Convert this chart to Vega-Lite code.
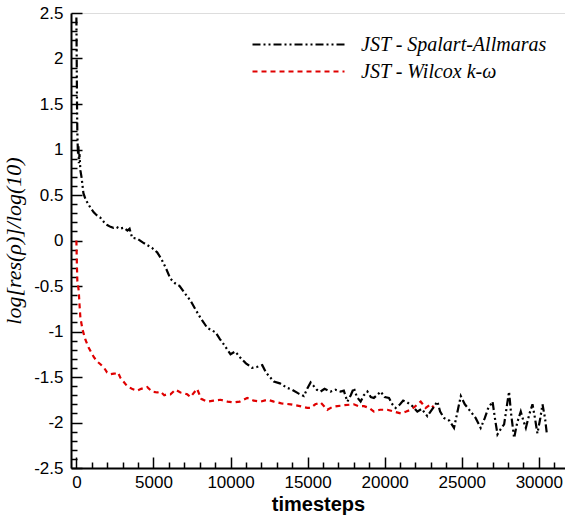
{
  "$schema": "https://vega.github.io/schema/vega-lite/v6.json",
  "width": 494,
  "height": 455,
  "autosize": {"type": "none"},
  "padding": {"left": 71, "top": 13, "right": 0, "bottom": 49},
  "datasets": {
    "sa": [
      {"t":0,"r":2.45},{"t":20,"r":2.0},{"t":40,"r":1.5},{"t":60,"r":1.2},{"t":100,"r":0.95},{"t":130,"r":1.05},{"t":160,"r":0.85},{"t":200,"r":0.95},{"t":260,"r":0.77},{"t":330,"r":0.7},{"t":455,"r":0.52},{"t":600,"r":0.45},{"t":700,"r":0.42},{"t":910,"r":0.36},{"t":1125,"r":0.31},{"t":1300,"r":0.28},{"t":1560,"r":0.25},{"t":1800,"r":0.2},{"t":2000,"r":0.17},{"t":2210,"r":0.15},{"t":2400,"r":0.14},{"t":2600,"r":0.15},{"t":2800,"r":0.13},{"t":3070,"r":0.14},{"t":3310,"r":0.11},{"t":3450,"r":0.13},{"t":3615,"r":0.03},{"t":3960,"r":0.02},{"t":4300,"r":-0.02},{"t":4590,"r":-0.05},{"t":4900,"r":-0.08},{"t":5240,"r":-0.13},{"t":5500,"r":-0.2},{"t":5800,"r":-0.3},{"t":6100,"r":-0.42},{"t":6400,"r":-0.47},{"t":6700,"r":-0.5},{"t":7080,"r":-0.59},{"t":7400,"r":-0.66},{"t":7700,"r":-0.75},{"t":8050,"r":-0.85},{"t":8490,"r":-0.96},{"t":9030,"r":-1.01},{"t":9300,"r":-1.08},{"t":9600,"r":-1.15},{"t":10000,"r":-1.25},{"t":10300,"r":-1.22},{"t":10650,"r":-1.29},{"t":11000,"r":-1.35},{"t":11400,"r":-1.4},{"t":11700,"r":-1.39},{"t":12060,"r":-1.37},{"t":12300,"r":-1.45},{"t":12810,"r":-1.55},{"t":13200,"r":-1.57},{"t":13680,"r":-1.62},{"t":14000,"r":-1.64},{"t":14400,"r":-1.68},{"t":14760,"r":-1.71},{"t":15000,"r":-1.62},{"t":15195,"r":-1.56},{"t":15400,"r":-1.6},{"t":15600,"r":-1.64},{"t":15840,"r":-1.66},{"t":16100,"r":-1.63},{"t":16490,"r":-1.66},{"t":16800,"r":-1.64},{"t":17140,"r":-1.66},{"t":17350,"r":-1.65},{"t":17580,"r":-1.77},{"t":17800,"r":-1.7},{"t":18000,"r":-1.62},{"t":18200,"r":-1.72},{"t":18440,"r":-1.77},{"t":18650,"r":-1.7},{"t":18880,"r":-1.66},{"t":19100,"r":-1.72},{"t":19300,"r":-1.73},{"t":19500,"r":-1.7},{"t":19740,"r":-1.66},{"t":20000,"r":-1.72},{"t":20280,"r":-1.73},{"t":20500,"r":-1.8},{"t":20710,"r":-1.84},{"t":21000,"r":-1.8},{"t":21200,"r":-1.76},{"t":21470,"r":-1.78},{"t":21800,"r":-1.82},{"t":22120,"r":-1.88},{"t":22400,"r":-1.85},{"t":22770,"r":-1.93},{"t":23100,"r":-1.85},{"t":23420,"r":-1.77},{"t":23600,"r":-1.88},{"t":23850,"r":-1.95},{"t":24200,"r":-1.98},{"t":24500,"r":-2.06},{"t":24700,"r":-1.9},{"t":24940,"r":-1.71},{"t":25200,"r":-1.8},{"t":25580,"r":-1.88},{"t":25900,"r":-1.95},{"t":26230,"r":-2.06},{"t":26500,"r":-1.95},{"t":26700,"r":-1.85},{"t":27000,"r":-1.77},{"t":27150,"r":-1.95},{"t":27320,"r":-2.13},{"t":27500,"r":-2.08},{"t":27750,"r":-2.02},{"t":27900,"r":-1.85},{"t":28070,"r":-1.66},{"t":28200,"r":-1.9},{"t":28400,"r":-2.17},{"t":28600,"r":-2.0},{"t":28830,"r":-1.88},{"t":29000,"r":-1.98},{"t":29160,"r":-2.06},{"t":29400,"r":-1.9},{"t":29590,"r":-1.8},{"t":29750,"r":-1.95},{"t":29910,"r":-2.12},{"t":30100,"r":-1.95},{"t":30240,"r":-1.8},{"t":30400,"r":-1.95},{"t":30520,"r":-2.12}
    ],
    "wk": [
      {"t":0,"r":0.0},{"t":30,"r":-0.25},{"t":60,"r":-0.44},{"t":150,"r":-0.55},{"t":200,"r":-0.7},{"t":260,"r":-0.85},{"t":400,"r":-0.98},{"t":585,"r":-1.09},{"t":800,"r":-1.18},{"t":1125,"r":-1.28},{"t":1350,"r":-1.33},{"t":1560,"r":-1.36},{"t":1800,"r":-1.4},{"t":1990,"r":-1.45},{"t":2210,"r":-1.47},{"t":2530,"r":-1.46},{"t":2700,"r":-1.45},{"t":2860,"r":-1.51},{"t":3050,"r":-1.55},{"t":3290,"r":-1.6},{"t":3600,"r":-1.63},{"t":3940,"r":-1.65},{"t":4200,"r":-1.63},{"t":4590,"r":-1.61},{"t":4900,"r":-1.66},{"t":5240,"r":-1.67},{"t":5450,"r":-1.66},{"t":5700,"r":-1.7},{"t":5890,"r":-1.69},{"t":6100,"r":-1.69},{"t":6430,"r":-1.64},{"t":6750,"r":-1.67},{"t":7000,"r":-1.68},{"t":7190,"r":-1.69},{"t":7400,"r":-1.72},{"t":7830,"r":-1.63},{"t":8100,"r":-1.74},{"t":8490,"r":-1.77},{"t":8900,"r":-1.76},{"t":9350,"r":-1.75},{"t":9800,"r":-1.77},{"t":10210,"r":-1.78},{"t":10600,"r":-1.77},{"t":11080,"r":-1.73},{"t":11500,"r":-1.76},{"t":11950,"r":-1.77},{"t":12400,"r":-1.75},{"t":12810,"r":-1.77},{"t":13300,"r":-1.79},{"t":13900,"r":-1.8},{"t":14500,"r":-1.82},{"t":14980,"r":-1.84},{"t":15195,"r":-1.84},{"t":15500,"r":-1.8},{"t":15840,"r":-1.78},{"t":16280,"r":-1.86},{"t":16600,"r":-1.83},{"t":16930,"r":-1.82},{"t":17400,"r":-1.81},{"t":18000,"r":-1.8},{"t":18300,"r":-1.82},{"t":18660,"r":-1.82},{"t":19000,"r":-1.84},{"t":19300,"r":-1.88},{"t":19700,"r":-1.86},{"t":20170,"r":-1.86},{"t":20600,"r":-1.88},{"t":21040,"r":-1.9},{"t":21400,"r":-1.88},{"t":21690,"r":-1.86},{"t":22000,"r":-1.82},{"t":22340,"r":-1.77},{"t":22660,"r":-1.84},{"t":22990,"r":-1.8},{"t":23200,"r":-1.84}
    ]
  },
  "resolve": {"axis": {"x": "independent", "y": "independent"}},
  "layer": [
    {
      "data": {"name": "wk"},
      "transform": [{"calculate": "'JST - Wilcox k-ω'", "as": "series"}],
      "mark": {"type": "line", "strokeWidth": 2.2},
      "encoding": {
        "x": {
          "field": "t", "type": "quantitative",
          "scale": {"domain": [-350, 31700], "nice": false, "zero": false},
          "axis": {
            "orient": "top", "offset": -455, "title": null, "labels": false, "grid": false,
            "domain": true, "domainColor": "black", "domainWidth": 2,
            "values": [1000,2000,3000,4000,6000,7000,8000,9000,11000,12000,13000,14000,16000,17000,18000,19000,21000,22000,23000,24000,26000,27000,28000,29000,31000],
            "tickSize": 6, "tickColor": "black", "tickWidth": 1.5
          }
        },
        "y": {
          "field": "r", "type": "quantitative",
          "scale": {"domain": [-2.5, 2.5], "nice": false, "zero": false},
          "axis": {
            "orient": "right", "offset": -494, "title": null, "labels": false, "grid": false,
            "domain": true, "domainColor": "black", "domainWidth": 2,
            "values": [-2.4,-2.3,-2.2,-2.1,-1.9,-1.8,-1.7,-1.6,-1.4,-1.3,-1.2,-1.1,-0.9,-0.8,-0.7,-0.6,-0.4,-0.3,-0.2,-0.1,0.1,0.2,0.3,0.4,0.6,0.7,0.8,0.9,1.1,1.2,1.3,1.4,1.6,1.7,1.8,1.9,2.1,2.2,2.3,2.4],
            "tickSize": 6, "tickColor": "black", "tickWidth": 1.5
          }
        },
        "color": {
          "field": "series", "type": "nominal",
          "scale": {"domain": ["JST - Spalart-Allmaras", "JST - Wilcox k-ω"], "range": ["black", "#e00000"]},
          "legend": {
            "orient": "none", "legendX": 215, "legendY": 19, "title": null,
            "symbolType": "M-4,0H4", "symbolSize": 529, "symbolStrokeWidth": 2,
            "labelFont": "Liberation Serif", "labelFontStyle": "italic", "labelFontSize": 20, "labelColor": "black",
            "labelOffset": 50, "rowPadding": 4, "labelLimit": 0
          }
        },
        "strokeDash": {
          "field": "series", "type": "nominal",
          "scale": {"domain": ["JST - Spalart-Allmaras", "JST - Wilcox k-ω"], "range": [[8, 3, 2, 3, 2, 3], [5, 4]]},
          "legend": null
        }
      }
    },
    {
      "data": {"name": "sa"},
      "transform": [{"calculate": "'JST - Spalart-Allmaras'", "as": "series"}],
      "mark": {"type": "line", "strokeWidth": 2.2},
      "encoding": {
        "x": {
          "field": "t", "type": "quantitative",
          "scale": {"domain": [-350, 31700], "nice": false, "zero": false},
          "axis": {
            "orient": "bottom", "offset": -11, "domain": false,
            "title": "timesteps",
            "titleFont": "Liberation Sans", "titleFontSize": 20, "titleFontWeight": "bold", "titleColor": "black", "titlePadding": 4,
            "values": [0,5000,10000,15000,20000,25000,30000],
            "format": "d",
            "labelFont": "Liberation Sans", "labelFontSize": 17, "labelColor": "black", "labelPadding": 6,
            "tickSize": 11, "tickColor": "black", "tickWidth": 1.5,
            "grid": false, "labelOverlap": false, "labelFlush": false
          }
        },
        "y": {
          "field": "r", "type": "quantitative",
          "scale": {"domain": [-2.5, 2.5], "nice": false, "zero": false},
          "axis": {
            "orient": "left", "offset": -11, "domain": false,
            "title": "log[res(ρ)]/log(10)",
            "titleFont": "Liberation Serif", "titleFontSize": 22, "titleFontStyle": "italic", "titleFontWeight": "normal", "titleColor": "black", "titlePadding": 8,
            "values": [-2.5,-2,-1.5,-1,-0.5,0,0.5,1,1.5,2,2.5],
            "labelExpr": "toString(datum.value)",
            "labelFont": "Liberation Sans", "labelFontSize": 17, "labelColor": "black", "labelPadding": 8,
            "tickSize": 11, "tickColor": "black", "tickWidth": 1.5,
            "grid": false, "labelOverlap": false, "labelFlush": false
          }
        },
        "color": {"field": "series", "type": "nominal"},
        "strokeDash": {"field": "series", "type": "nominal"}
      }
    }
  ]
}
